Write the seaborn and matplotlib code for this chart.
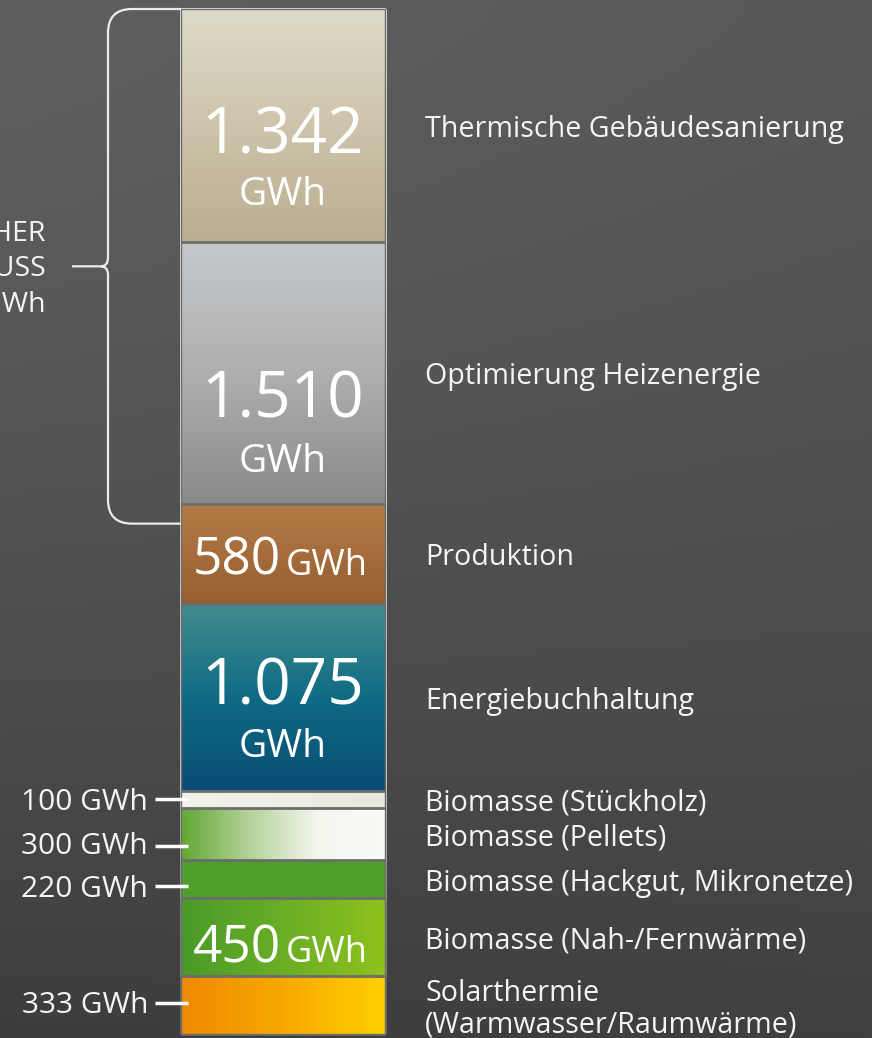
import numpy as np
import pandas as pd
import matplotlib
matplotlib.use("Agg")
import matplotlib.pyplot as plt
import seaborn as sns
import matplotlib.transforms as mtransforms
from matplotlib.colors import LinearSegmentedColormap, to_rgb
from matplotlib.path import Path
from matplotlib.patches import PathPatch

# ---------------- data ----------------
categories = [
    "Thermische Gebäudesanierung",
    "Optimierung Heizenergie",
    "Produktion",
    "Energiebuchhaltung",
    "Biomasse (Stückholz)",
    "Biomasse (Pellets)",
    "Biomasse (Hackgut, Mikronetze)",
    "Biomasse (Nah-/Fernwärme)",
    "Solarthermie\n(Warmwasser/Raumwärme)",
]
values = [1342, 1510, 580, 1075, 100, 300, 220, 450, 333]
value_labels = ["1.342", "1.510", "580", "1.075", "100", "300", "220", "450", "333"]
unit = "GWh"
bracket_lines = ["THERMISCHER", "EINFLUSS", "2.852 GWh"]

# ---------------- style ----------------
label_style = ["in2", "in2", "in1", "in2", "left", "left", "left", "in1", "left"]
gradients = [
    ("v", ["#dedbc9", "#cdc4ab", "#bbad91"]),
    ("v", ["#c6c9cc", "#aeafb0", "#8a8a8a"]),
    ("v", ["#b27d49", "#a66d3b", "#975e2f"]),
    ("v", ["#438c8b", "#0f6b85", "#0a4c74"]),
    ("h", ["#f3f3ec", "#e8e8dc"]),
    ("h", ["#62a733", "#b3d299", "#f4f6ee", "#fafaf6"]),
    ("h", ["#4f9f2d", "#50a02c"]),
    ("h", ["#4a9a2a", "#6aae25", "#8fc21d"]),
    ("h", ["#ee8900", "#f8a900", "#ffd000"]),
]
# pixel offsets (downwards) of label baselines relative to segment middles
num_off = {0: 28, 1: 45, 2: 21, 3: 7, 7: 25}
gwh_off = {0: 80, 1: 99, 3: 60}
right_off = 4
left_txt_off = {4: 3, 5: 12, 6: 10, 8: 0}
left_tick_off = {4: 0, 5: 12, 6: 7, 8: -2}

W, H = 872, 1038
BAR_TOP_PX, BAR_BOT_PX = 9, 1034
BAR_L_PX, BAR_R_PX = 181, 385

sns.set_theme(style="white")
plt.rcParams["font.family"] = ["Open Sans", "DejaVu Sans"]
TXT = "#f4f4f4"

fig = plt.figure(figsize=(W / 100, H / 100), dpi=100)

# background gradient
bg = fig.add_axes([0, 0, 1, 1], zorder=0)
tl, tr, bl, br = [np.array(to_rgb(c)) for c in ("#5f5f5f", "#585858", "#3d3d3d", "#404040")]
yy, xx = np.mgrid[0:1:200j, 0:1:200j]
yy = yy ** 1.4
img = ((1 - yy)[..., None] * ((1 - xx)[..., None] * tl + xx[..., None] * tr)
       + yy[..., None] * ((1 - xx)[..., None] * bl + xx[..., None] * br))
bg.imshow(img, extent=(0, 1, 0, 1), aspect="auto", origin="upper")
bg.axis("off")

ax = fig.add_axes([0, 0, 1, 1], zorder=1)
ax.patch.set_alpha(0)

total = sum(values)
ends = np.cumsum(values)
starts = ends - np.array(values)
s = total / (BAR_BOT_PX - BAR_TOP_PX)  # GWh per pixel

df = pd.DataFrame({"stack": ["Energie"] * len(values), "segment": categories, "end": ends})
solid = {c: g[1][len(g[1]) // 2] for c, g in zip(categories, gradients)}
sns.barplot(data=df, x="stack", y="end", hue="segment", hue_order=categories[::-1],
            dodge=False, palette=solid, saturation=1, width=0.8, errorbar=None,
            legend=False, ax=ax, zorder=1)

# x limits so that the bar sits at pixel 181..385
upp = 0.8 / (BAR_R_PX - BAR_L_PX)
xc_px = (BAR_L_PX + BAR_R_PX) / 2
xmin = -xc_px * upp
xmax = xmin + W * upp
ymin_top = -BAR_TOP_PX * s
ymax_bot = total + (H - BAR_BOT_PX) * s

# gradients on each segment
for p in list(ax.patches):
    h = p.get_height()
    i = int(np.argmin(np.abs(ends - h)))
    x0, x1 = p.get_x(), p.get_x() + p.get_width()
    d, cols = gradients[i]
    cmap = LinearSegmentedColormap.from_list(f"g{i}", cols)
    grad = np.linspace(0, 1, 256)
    arr = grad[:, None] if d == "v" else grad[None, :]
    ax.imshow(arr, cmap=cmap, extent=(x0, x1, ends[i], starts[i]), aspect="auto",
              origin="upper", interpolation="bicubic", zorder=2)
    bar_x0, bar_x1 = x0, x1

ax.hlines(ends[:-1], bar_x0, bar_x1, colors="#6c6c6c", lw=2.0, zorder=3)
ax.add_patch(plt.Rectangle((bar_x0, 0), bar_x1 - bar_x0, total, fill=False,
                           ec="#6c6c6c", lw=1.0, zorder=3))

ax.set_xlim(xmin, xmax)
ax.set_ylim(ymax_bot, ymin_top)
ax.axis("off")

blend = mtransforms.blended_transform_factory(ax.transAxes, ax.transData)
mids = (starts + ends) / 2

def fx(px):
    return px / W

for i, cat in enumerate(categories):
    m = mids[i]
    ax.text(fx(425), m + right_off * s, cat, transform=blend, ha="left", va="center",
            color=TXT, fontsize=20.6, linespacing=1.08, zorder=5)
    st = label_style[i]
    if st == "in2":
        ax.text(0, m + num_off[i] * s, value_labels[i], ha="center", va="baseline",
                color="white", fontsize=46, zorder=5)
        ax.text(0, m + gwh_off[i] * s, unit, ha="center", va="baseline",
                color="white", fontsize=28, zorder=5)
    elif st == "in1":
        ax.text(fx(281), m + num_off[i] * s, value_labels[i], transform=blend,
                ha="right", va="baseline", color="white", fontsize=37, zorder=5)
        ax.text(fx(286), m + num_off[i] * s, unit, transform=blend,
                ha="left", va="baseline", color="white", fontsize=26, zorder=5)
    else:
        ax.text(fx(148), m + left_txt_off[i] * s, f"{value_labels[i]} {unit}",
                transform=blend, ha="right", va="center", color=TXT, fontsize=21.5, zorder=5)
        yt = m + left_tick_off[i] * s
        ax.plot([fx(155), fx(188)], [yt, yt], transform=blend, color="white",
                lw=2.5, solid_capstyle="butt", zorder=6)

# curly bracket around the first two segments
b_top = 0
b_bot = ends[1] + 20 * s
b_mid = (b_top + b_bot) / 2
xa, xv, xt, xe = fx(181), fx(108), fx(101), fx(72)
r = 24 * s
rx = fx(132) - xv
verts = [
    (xa, b_top), (xv + rx, b_top), (xv, b_top), (xv, b_top + r),
    (xv, b_mid - 9 * s), (xv, b_mid), (xt, b_mid),
    (xe, b_mid),
    (xt, b_mid), (xv, b_mid), (xv, b_mid + 9 * s),
    (xv, b_bot - r), (xv, b_bot), (xv + rx, b_bot), (xa, b_bot),
]
codes = [Path.MOVETO, Path.LINETO, Path.CURVE3, Path.CURVE3,
         Path.LINETO, Path.CURVE3, Path.CURVE3,
         Path.LINETO,
         Path.MOVETO, Path.CURVE3, Path.CURVE3,
         Path.LINETO, Path.CURVE3, Path.CURVE3, Path.LINETO]
ax.add_patch(PathPatch(Path(verts, codes), transform=blend, fill=False,
                       ec="#ececec", lw=1.6, zorder=4))

for k, line in enumerate(bracket_lines):
    ax.text(fx(46), b_mid + (k - 1) * 35.5 * s + 3 * s, line, transform=blend, ha="right",
            va="center", color=TXT, fontsize=20.5, zorder=5)

fig.savefig("out.png", dpi=100)
